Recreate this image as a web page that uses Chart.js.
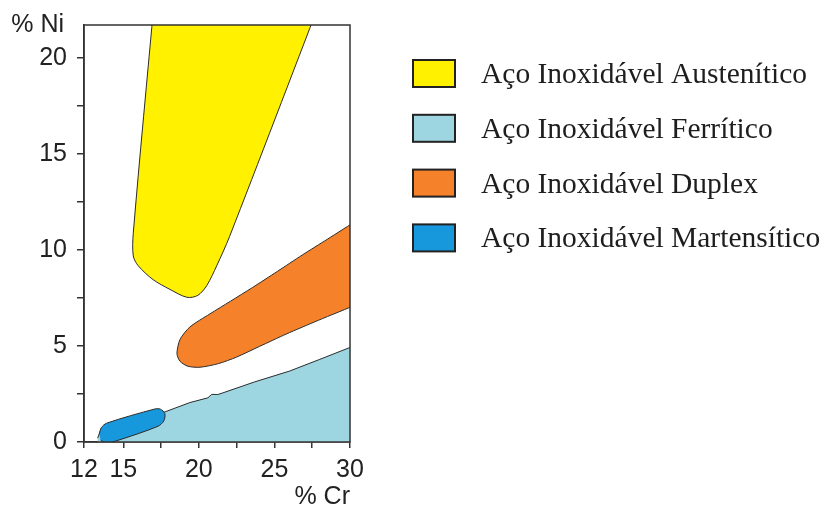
<!DOCTYPE html>
<html>
<head>
<meta charset="utf-8">
<script src="https://cdn.jsdelivr.net/npm/chart.js@4.4.1/dist/chart.umd.min.js"></script>
<style>
  html, body { margin: 0; padding: 0; background: #ffffff; }
  #wrap { width: 835px; height: 511px; }
</style>
</head>
<body>
<div id="wrap"><canvas id="c" width="835" height="511"></canvas></div>
<script>
// Families of stainless steel on the Cr–Ni composition plane (wt %)
const seriesNames = [
  'Aço Inoxidável Austenítico',
  'Aço Inoxidável Ferrítico',
  'Aço Inoxidável Duplex',
  'Aço Inoxidável Martensítico'
];
const seriesColors = ['#FFF100', '#9DD6E0', '#F5822A', '#1898DC'];

// Region outlines: % Cr (x) and % Ni (y) of each boundary vertex
const austeniticoCr = [17.05, 15.66, 15.66, 15.99, 16.97, 18.09, 19.21, 19.93, 20.53, 21.18, 22.04, 28.06];
const austeniticoNi = [23.0, 10.86, 9.68, 9.17, 8.45, 7.94, 7.53, 7.63, 8.15, 9.17, 10.71, 23.0];

const ferriticoCr = [13.3, 13.5, 13.9, 17.4, 17.7, 19.4, 20.6, 20.85, 21.25, 21.6, 23.7, 26.0, 28.0, 30.0, 30.6, 30.6, 13.3];
const ferriticoNi = [0.2, 0.6, 0.9, 1.6, 1.55, 2.05, 2.3, 2.48, 2.47, 2.56, 3.13, 3.69, 4.3, 4.92, 5.1, -0.6, -0.6];

const duplexCr = [30.6, 28.5, 26.84, 25.2, 23.55, 22.1, 20.72, 19.41, 18.75, 18.55, 18.75, 19.28, 20.07, 21.3, 22.5, 24.0, 25.79, 27.9, 30.6];
const duplexNi = [11.6, 10.55, 9.73, 8.88, 8.04, 7.33, 6.66, 5.99, 5.33, 4.61, 4.2, 3.94, 3.89, 4.08, 4.42, 4.97, 5.62, 6.33, 7.2];

const martensiticoCr = [13.4, 13.55, 13.9, 17.1, 17.45, 17.75, 17.68, 17.3, 14.5, 13.85, 13.5];
const martensiticoNi = [0.4, 0.75, 0.98, 1.72, 1.71, 1.48, 1.1, 0.82, 0.05, -0.05, 0.1];

// Axis ticks
const xTickValues = [12.4, 15, 17.5, 20, 22.5, 25, 27.5, 30];
const xTickLabels = ['12', '15', '', '20', '', '25', '', '30'];
const yTickValues = [0, 2.5, 5, 7.5, 10, 12.5, 15, 17.5, 20];
const yTickLabels = ['0', '', '5', '', '10', '', '15', '', '20'];
const xTitle = '% Cr';
const yTitle = '% Ni';

const toPoints = (xs, ys) => xs.map((x, i) => ({ x: x, y: ys[i] }));

function region(idx, xs, ys, tension, order) {
  return {
    label: seriesNames[idx],
    data: toPoints(xs, ys),
    showLine: true,
    fill: 'shape',
    backgroundColor: seriesColors[idx],
    borderColor: '#2b2b2b',
    borderWidth: 1,
    pointRadius: 0,
    pointHoverRadius: 0,
    tension: tension,
    capBezierPoints: false,
    order: order
  };
}

const frameAndLegend = {
  id: 'frameAndLegend',
  afterDraw(chart) {
    const { ctx, chartArea: a } = chart;
    ctx.save();
    // plot frame
    ctx.strokeStyle = '#333333';
    ctx.lineWidth = 1.5;
    ctx.strokeRect(a.left, a.top, a.right - a.left, a.bottom - a.top);
    // y-axis title, horizontal at the top-left corner
    ctx.font = '25px "Liberation Sans", Arial, sans-serif';
    ctx.fillStyle = '#222222';
    ctx.textAlign = 'right';
    ctx.textBaseline = 'alphabetic';
    ctx.fillText(yTitle, 64, 32);
    // legend
    ctx.font = '29.5px "Liberation Serif", "Times New Roman", serif';
    ctx.textAlign = 'left';
    chart.data.datasets.forEach((ds, i) => {
      const cy = 73.5 + i * 54.8;
      ctx.fillStyle = ds.backgroundColor;
      ctx.fillRect(413, cy - 13.5, 42, 27);
      ctx.strokeStyle = '#222222';
      ctx.lineWidth = 2;
      ctx.strokeRect(413, cy - 13.5, 42, 27);
      ctx.fillStyle = '#1e1e1e';
      ctx.fillText(ds.label, 481, cy + 9.5);
    });
    ctx.restore();
  }
};

const axisFont = { family: '"Liberation Sans", Arial, sans-serif', size: 25 };

new Chart(document.getElementById('c'), {
  type: 'scatter',
  data: {
    datasets: [
      region(0, austeniticoCr, austeniticoNi, 0.3, 1),
      region(1, ferriticoCr, ferriticoNi, 0, 3),
      region(2, duplexCr, duplexNi, 0.25, 2),
      region(3, martensiticoCr, martensiticoNi, 0.3, 0)
    ]
  },
  options: {
    responsive: false,
    animation: false,
    events: [],
    layout: { padding: { left: 0, top: 18, right: 485, bottom: 0 } },
    plugins: {
      legend: { display: false },
      tooltip: { enabled: false }
    },
    scales: {
      x: {
        type: 'linear',
        min: 12.4,
        max: 30,
        afterBuildTicks: s => { s.ticks = xTickValues.map(v => ({ value: v })); },
        afterFit: s => { s.height = 69; },
        ticks: {
          autoSkip: false,
          maxRotation: 0,
          padding: 7,
          color: '#222222',
          font: axisFont,
          callback: (v, i) => xTickLabels[i]
        },
        grid: { drawOnChartArea: false, drawTicks: true, tickLength: 6, color: '#333333', lineWidth: 1.5 },
        border: { display: true, color: '#333333', width: 1.5 },
        title: {
          display: true,
          text: xTitle,
          align: 'end',
          color: '#222222',
          font: axisFont,
          padding: { top: 0, bottom: -1 }
        }
      },
      y: {
        type: 'linear',
        min: 0,
        max: 21.7,
        afterBuildTicks: s => { s.ticks = yTickValues.map(v => ({ value: v })); },
        afterFit: s => { s.width = 84; },
        ticks: {
          autoSkip: false,
          padding: 10,
          color: '#222222',
          font: axisFont,
          callback: (v, i) => yTickLabels[i]
        },
        grid: { drawOnChartArea: false, drawTicks: true, tickLength: 7, color: '#333333', lineWidth: 1.5 },
        border: { display: true, color: '#333333', width: 1.5 }
      }
    }
  },
  plugins: [frameAndLegend]
});
</script>
</body>
</html>
